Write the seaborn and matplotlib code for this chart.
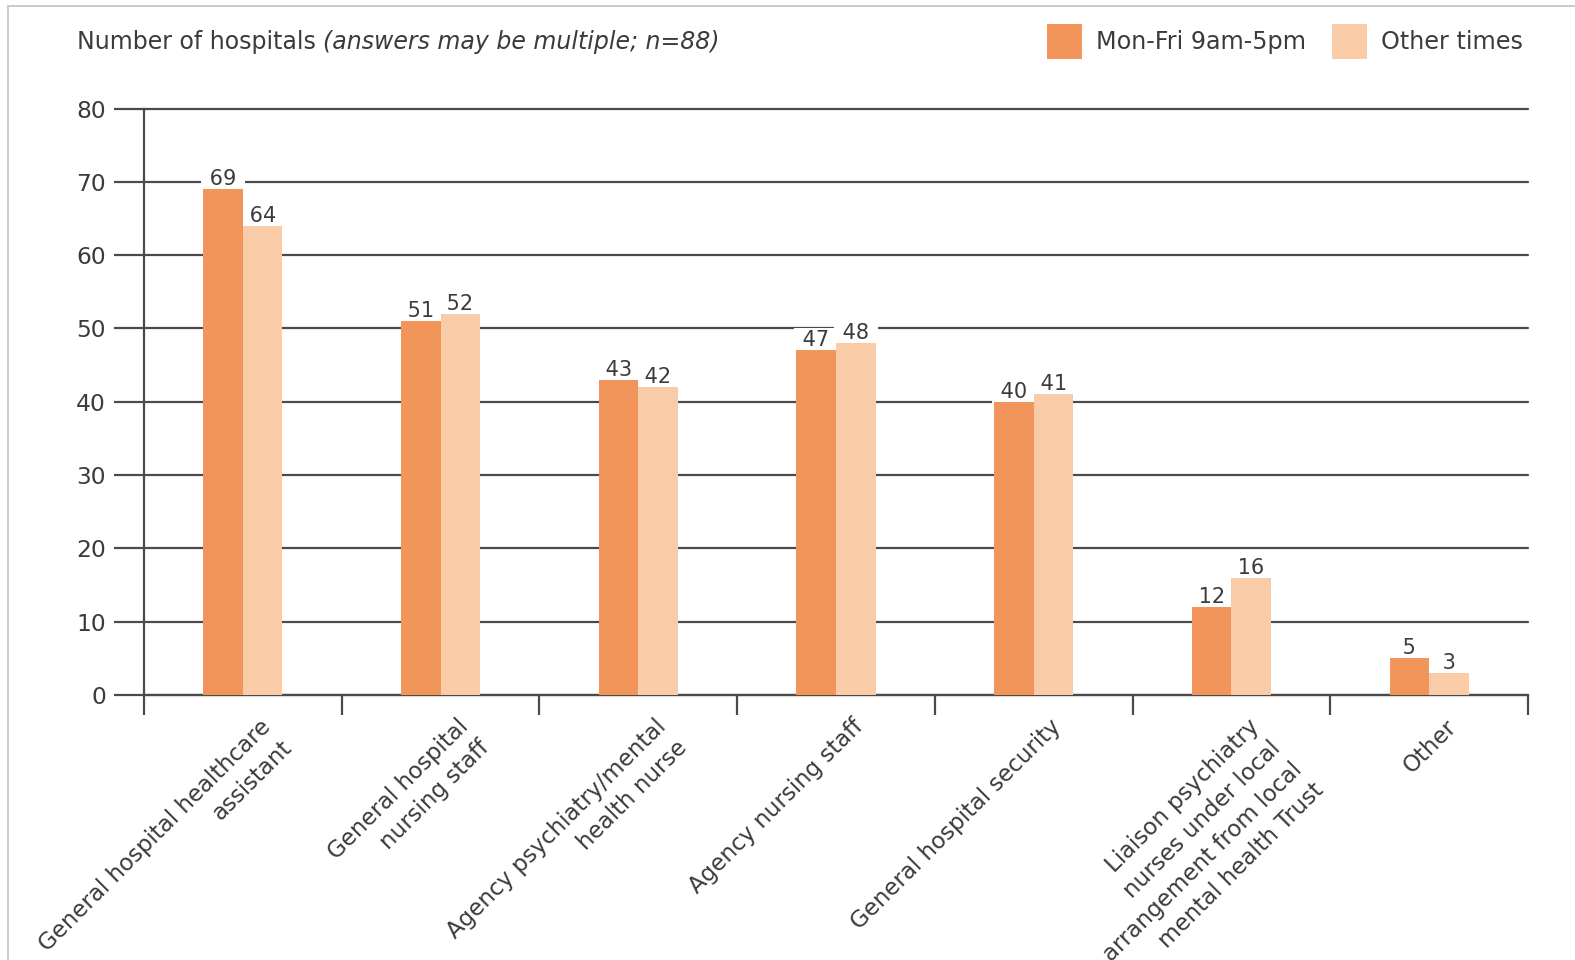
import matplotlib
matplotlib.use("Agg")
import matplotlib.pyplot as plt
from matplotlib import transforms
from matplotlib.patches import Rectangle, Patch
import numpy as np
import pandas as pd
import seaborn as sns

# Staff who provide supervision, by period
categories = [
    "General hospital healthcare\nassistant",
    "General hospital\nnursing staff",
    "Agency psychiatry/mental\nhealth nurse",
    "Agency nursing staff",
    "General hospital security",
    "Liaison psychiatry\nnurses under local\narrangement from local\nmental health Trust",
    "Other",
]
weekday_hours = [69, 51, 43, 47, 40, 12, 5]
other_times = [64, 52, 42, 48, 41, 16, 3]
series_names = ["Mon-Fri 9am-5pm", "Other times"]
y_ticks = [0, 10, 20, 30, 40, 50, 60, 70, 80]
title_plain = "Number of hospitals "
title_italic = "(answers may be multiple; n=88)"

DARK = "#F2955A"
LIGHT = "#F9CBA7"
TEXT = "#3b3b3b"
RULE = "#4a4a4a"

df = pd.DataFrame({
    "category": categories * 2,
    "hospitals": weekday_hours + other_times,
    "period": [series_names[0]] * len(categories) + [series_names[1]] * len(categories),
})

sns.set_style("white")
plt.rcParams["font.family"] = ["DejaVu Sans"]

W, H = 1575, 960
fig = plt.figure(figsize=(W / 100, H / 100), dpi=100)
ax = fig.add_axes([144 / W, 1 - 695 / H, (1528 - 144) / W, (695 - 108.5) / H])

sns.barplot(
    data=df, x="category", y="hospitals", hue="period",
    palette=[DARK, LIGHT], width=0.4, saturation=1, gap=0,
    linewidth=0, legend=False, ax=ax, zorder=3,
)

# Axes frame, ticks and grid
ax.set_xlim(-0.5, len(categories) - 0.5)
ax.set_ylim(0, 80)
ax.set_yticks(y_ticks)
ax.set_xticks(np.arange(-0.5, len(categories), 1.0))
ax.set_xticklabels([])
ax.set_xlabel("")
ax.set_ylabel("")
ax.set_axisbelow(True)
ax.yaxis.grid(True, color=RULE, linewidth=1.6)
ax.xaxis.grid(False)
for gl in ax.get_ygridlines():
    gl.set_clip_on(False)
for side in ("top", "right"):
    ax.spines[side].set_visible(False)
for side in ("left", "bottom"):
    ax.spines[side].set_color(RULE)
    ax.spines[side].set_linewidth(1.6)
ax.tick_params(axis="y", left=True, length=21.6, width=1.6, color=RULE,
               pad=5.8, labelsize=16.8, labelcolor=TEXT, direction="out")
ax.tick_params(axis="x", bottom=True, length=14.4, width=1.6, color=RULE,
               direction="out")

# Rotated category names below each group
label_tf = transforms.blended_transform_factory(ax.transData, ax.transAxes) + \
    transforms.ScaledTranslation(16 / 100, -20 / 100, fig.dpi_scale_trans)
for i, name in enumerate(categories):
    ax.text(i, 0, name, transform=label_tf, rotation=45, rotation_mode="anchor",
            ha="right", va="top", fontsize=16.5, color=TEXT, linespacing=1.4)

# Value labels; the padded white box breaks the grid line beside them
for container, vals in zip(ax.containers, [weekday_hours, other_times]):
    ax.bar_label(container, labels=[f" {v} " for v in vals], padding=0,
                 fontsize=15, color=TEXT, zorder=2.5,
                 bbox=dict(boxstyle="square,pad=0.1", fc="white", ec="none"))

# Heading with an italic qualifier
t1 = fig.text(77 / W, 1 - 48.5 / H, title_plain, fontsize=17, color=TEXT, va="baseline")
ax.annotate(title_italic, xy=(1, 0), xycoords=t1, ha="left", va="bottom",
            fontsize=17, color=TEXT, style="italic")

# Legend in the top right corner
handles = [Patch(facecolor=c, edgecolor="none") for c in (DARK, LIGHT)]
fig.legend(handles, series_names, loc="center right",
           bbox_to_anchor=(1523 / W, 1 - 41.5 / H), ncol=2, frameon=False,
           fontsize=17.2, handlelength=1.47, handleheight=1.82, handletextpad=0.6,
           columnspacing=1.07, borderpad=0, borderaxespad=0, labelcolor=TEXT)

# Thin frame around the panel
fig.add_artist(Rectangle((8 / W, -0.05), 1.2, 1 - 6 / H + 0.05,
                         transform=fig.transFigure, fill=False,
                         edgecolor="#c6c6c6", linewidth=1.3))

fig.savefig("out.png", dpi=100)
